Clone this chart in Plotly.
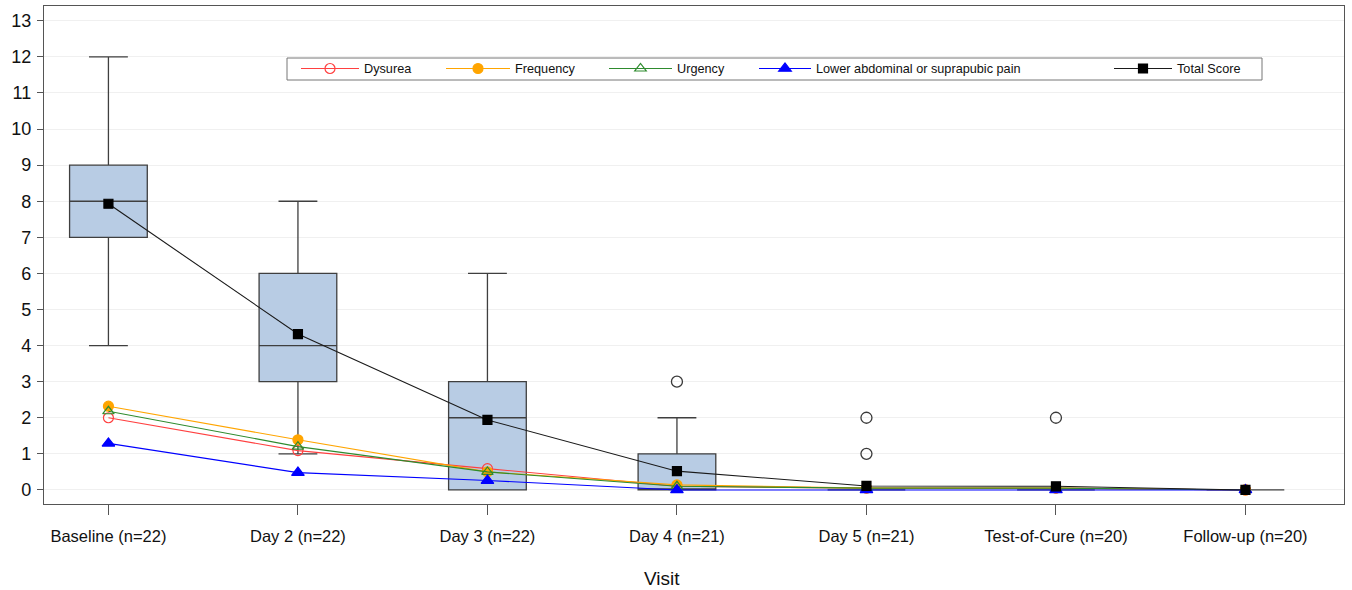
import plotly.graph_objects as go

visits = ["Baseline (n=22)", "Day 2 (n=22)", "Day 3 (n=22)", "Day 4 (n=21)",
          "Day 5 (n=21)", "Test-of-Cure (n=20)", "Follow-up (n=20)"]

# Box statistics of Total Score
q1 = [7, 3, 0, 0, 0, 0, 0]
median = [8, 4, 2, 0, 0, 0, 0]
q3 = [9, 6, 3, 1, 0, 0, 0]
lower_fence = [4, 1, 0, 0, 0, 0, 0]
upper_fence = [12, 8, 6, 2, 0, 0, 0]

# Outliers
outlier_x = ["Day 4 (n=21)", "Day 5 (n=21)", "Day 5 (n=21)", "Test-of-Cure (n=20)"]
outlier_y = [3, 1, 2, 2]

# Mean scores
total_score = [7.93, 4.32, 1.94, 0.52, 0.11, 0.10, 0.0]
dysurea = [2.00, 1.09, 0.59, 0.10, 0.05, 0.05, 0.0]
frequency = [2.32, 1.39, 0.50, 0.14, 0.05, 0.05, 0.0]
urgency = [2.18, 1.20, 0.50, 0.10, 0.05, 0.05, 0.0]
lower_pain = [1.29, 0.48, 0.26, 0.0, 0.0, 0.0, 0.0]

FONT = "Liberation Sans, Arial, sans-serif"

fig = go.Figure()

fig.add_trace(go.Box(
    x=visits, q1=q1, median=median, q3=q3,
    lowerfence=lower_fence, upperfence=upper_fence,
    fillcolor="#B8CCE4", line=dict(color="#3f3f3f", width=1.3),
    width=0.41, whiskerwidth=0.5, showlegend=False, hoverinfo="skip",
))

fig.add_trace(go.Scatter(
    x=outlier_x, y=outlier_y, mode="markers",
    marker=dict(symbol="circle-open", size=11, color="#3a3a3a", line=dict(width=1.3)),
    showlegend=False,
))

series = [
    ("Dysurea", dysurea, "#FF4040", "circle-open", 10, "legend", 54),
    ("Frequency", frequency, "#FFA500", "circle", 10, "legend2", 60),
    ("Urgency", urgency, "#2E8B2E", "triangle-up-open", 10, "legend3", 59),
    ("Lower abdominal or suprapubic pain", lower_pain, "#0000FF", "triangle-up", 11, "legend4", 48),
    ("Total Score", total_score, "#1a1a1a", "square", 9, "legend5", 54),
]

for name, vals, color, sym, size, leg, iw in series:
    mcolor = "#000000" if name == "Total Score" else color
    fig.add_trace(go.Scatter(
        x=visits, y=vals, mode="lines+markers", name=name,
        line=dict(color=color, width=1.1),
        marker=dict(symbol=sym, size=size, color=mcolor, line=dict(width=1.2, color=mcolor)),
        legend=leg,
    ))

# legend positions (paper coords, plot area 44..1344 px wide)
def px2paper(px):
    return (px - 44) / 1300.0

legend_common = dict(orientation="h", yanchor="middle", y=0.874, xanchor="left",
                     bgcolor="rgba(0,0,0,0)", borderwidth=0,
                     font=dict(family=FONT, size=12.7, color="#111"))
leg_pos = {"legend": 296, "legend2": 441, "legend3": 604, "legend4": 754, "legend5": 1109}
leg_iw = {s[5]: s[6] for s in series}
layout_legends = {}
for k, p in leg_pos.items():
    layout_legends[k] = dict(legend_common, x=px2paper(p), itemwidth=leg_iw[k] + 4)

fig.update_layout(
    width=1352, height=590,
    margin=dict(l=44, r=8, t=6, b=86, autoexpand=False),
    paper_bgcolor="white", plot_bgcolor="white",
    font=dict(family=FONT, color="#111"),
    **layout_legends,
    shapes=[dict(type="rect", xref="paper", yref="paper",
                 x0=px2paper(287), x1=px2paper(1262),
                 y0=(504 - 80) / 498.0, y1=(504 - 58) / 498.0,
                 line=dict(color="#777", width=1), fillcolor="rgba(0,0,0,0)", layer="below")],
    annotations=[dict(text="Visit", xref="paper", yref="paper",
                      x=px2paper(662), y=(504 - 578) / 498.0,
                      xanchor="center", yanchor="middle", showarrow=False,
                      font=dict(family=FONT, size=19, color="#111"))],
)

fig.update_xaxes(
    type="category", categoryorder="array", categoryarray=visits,
    range=[-0.34, 6.52], automargin=False,
    showline=True, linecolor="#555", linewidth=1.3, mirror=True,
    ticks="outside", ticklen=10, tickcolor="#555", tickwidth=1.3,
    ticklabelstandoff=7,
    tickfont=dict(family=FONT, size=16.5, color="#111"),
    showgrid=False, zeroline=False,
)
fig.update_yaxes(
    range=[-0.39, 13.41], automargin=False,
    tickvals=list(range(0, 14)),
    showline=True, linecolor="#555", linewidth=1.3, mirror=True,
    ticks="outside", ticklen=6, tickcolor="#555", tickwidth=1.3,
    ticklabelstandoff=2,
    tickfont=dict(family=FONT, size=18, color="#111"),
    showgrid=True, gridcolor="#F0F0F0", gridwidth=1, zeroline=False,
)

fig.write_html("out.html", config={"displayModeBar": False},
               post_script="document.body.style.margin='0';")
